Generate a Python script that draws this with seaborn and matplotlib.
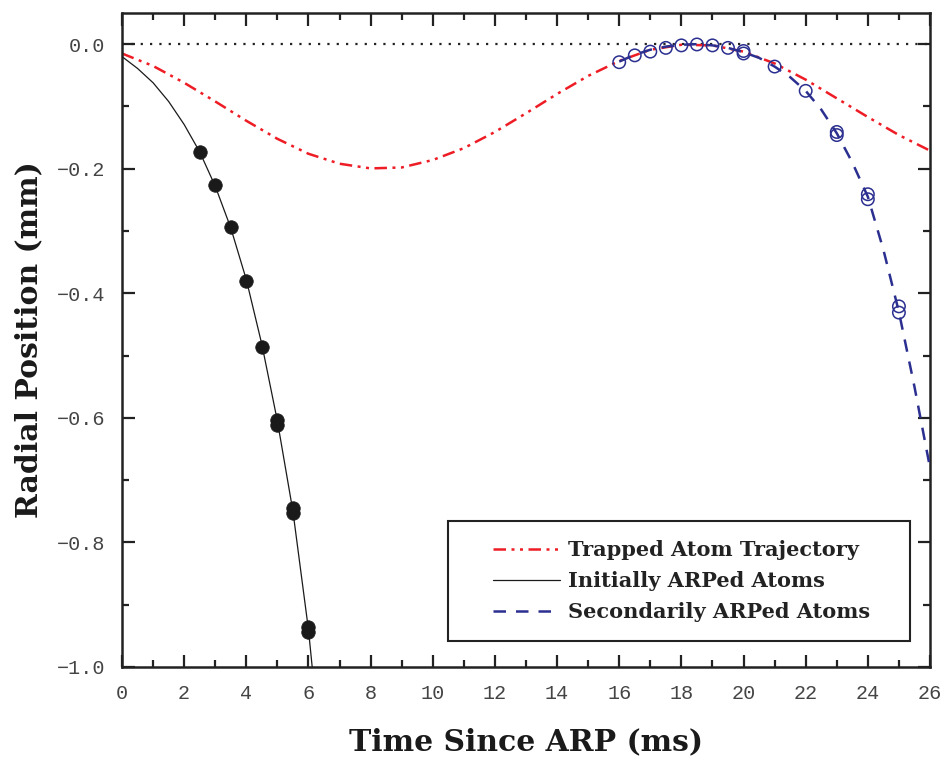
import matplotlib
matplotlib.use("Agg")
import matplotlib.pyplot as plt
import seaborn as sns
import numpy as np
from matplotlib.ticker import MultipleLocator, FuncFormatter
from matplotlib.patches import Rectangle

# ---------------- data ----------------
trap_t = [0, 1, 2, 3, 4, 5, 6, 7, 8, 9, 10, 11, 12, 13, 14, 15, 16, 17, 18,
          19, 20, 21, 22, 23, 24, 25, 26]
trap_r = [-0.015, -0.035, -0.062, -0.092, -0.123, -0.152, -0.176, -0.192,
          -0.1995, -0.198, -0.186, -0.167, -0.141, -0.111, -0.080, -0.051,
          -0.027, -0.009, -0.001, -0.002, -0.012, -0.031, -0.057, -0.087,
          -0.117, -0.146, -0.171]

init_t = [0, 0.5, 1, 1.5, 2, 2.5, 3, 3.5, 4, 4.5, 5, 5.5, 6, 6.12]
init_r = [-0.020, -0.039, -0.062, -0.092, -0.129, -0.173, -0.228, -0.295,
          -0.378, -0.482, -0.605, -0.750, -0.940, -1.000]

sec_t = [16, 16.5, 17, 17.5, 18, 18.5, 19, 19.5, 20, 20.5, 21, 21.5, 22,
         22.5, 23, 23.5, 24, 24.5, 25, 25.5, 26]
sec_r = [-0.028, -0.017, -0.009, -0.004, -0.001, 0.0, -0.002, -0.006,
         -0.013, -0.022, -0.036, -0.053, -0.075, -0.105, -0.143, -0.190,
         -0.245, -0.330, -0.430, -0.550, -0.680]

init_pts_t = [2.5, 3, 3.5, 4, 4.5, 5, 5, 5.5, 5.5, 6, 6]
init_pts_r = [-0.173, -0.226, -0.294, -0.380, -0.486, -0.604, -0.612,
              -0.744, -0.752, -0.936, -0.944]

sec_pts_t = [16, 16.5, 17, 17.5, 18, 18.5, 19, 19.5, 20, 20, 21, 22, 23, 23,
             24, 24, 25, 25]
sec_pts_r = [-0.029, -0.018, -0.012, -0.006, -0.002, -0.0005, -0.002,
             -0.006, -0.011, -0.015, -0.036, -0.075, -0.141, -0.146,
             -0.241, -0.249, -0.421, -0.431]

legend_labels = ["Trapped Atom Trajectory", "Initially ARPed Atoms",
                 "Secondarily ARPed Atoms"]

# ---------------- style ----------------
sns.set_theme(style="ticks")
plt.rcParams["font.family"] = ["DejaVu Serif", "DejaVu Sans"]

RED = "#ee1c25"
BLUE = "#2b2f8f"
BLACK = "#1a1a1a"

fig = plt.figure(figsize=(9.44, 7.57), dpi=100)
ax = fig.add_axes([122 / 944, 1 - 667 / 757, 808 / 944, (667 - 13) / 757])

# zero reference line
ax.axhline(0.0, color="#222222", lw=1.6, linestyle=(0, (1, 3.2)), zorder=1)

sns.lineplot(x=trap_t, y=trap_r, ax=ax, color=RED, lw=1.8,
             linestyle=(0, (5, 2.2, 1.2, 2.2, 1.2, 2.2)),
             estimator=None, sort=False, label=legend_labels[0], zorder=2)
sns.lineplot(x=init_t, y=init_r, ax=ax, color=BLACK, lw=0.9,
             estimator=None, sort=False, label=legend_labels[1], zorder=3)
sns.lineplot(x=sec_t, y=sec_r, ax=ax, color=BLUE, lw=1.8,
             linestyle=(0, (5, 4)),
             estimator=None, sort=False, label=legend_labels[2], zorder=3)

sns.scatterplot(x=init_pts_t, y=init_pts_r, ax=ax, color=BLACK, s=95,
                edgecolor=BLACK, linewidth=0.5, zorder=4, legend=False)
sns.scatterplot(x=sec_pts_t, y=sec_pts_r, ax=ax, facecolors="none",
                edgecolor=BLUE, linewidth=1.1, s=80, zorder=4, legend=False)

ax.set_xlim(0, 26)
ax.set_ylim(-1.0, 0.05)

ax.xaxis.set_major_locator(MultipleLocator(2))
ax.xaxis.set_minor_locator(MultipleLocator(1))
ax.yaxis.set_major_locator(MultipleLocator(0.2))
ax.yaxis.set_minor_locator(MultipleLocator(0.1))
ax.yaxis.set_major_formatter(FuncFormatter(lambda v, p: ("%.1f" % v).replace("-", "\u2212")))

ax.tick_params(which="both", direction="in", top=True, right=True,
               width=1.6, color="#222222")
ax.tick_params(which="major", length=9)
ax.tick_params(which="minor", length=5)
ax.tick_params(axis="both", which="major", labelsize=14.5, labelcolor="#444444",
               pad=12)
for lab in ax.get_xticklabels() + ax.get_yticklabels():
    lab.set_family(["Liberation Mono", "DejaVu Sans Mono"])

for sp in ax.spines.values():
    sp.set_linewidth(1.8)
    sp.set_color("#222222")

ax.set_xlabel("Time Since ARP (ms)", fontsize=21.5, fontweight="bold",
              color="#1a1a1a", labelpad=18)
ax.set_ylabel("Radial Position (mm)", fontsize=21.5, fontweight="bold",
              color="#1a1a1a", labelpad=10)

# legend box (frame drawn separately to get the wide side margins)
x0, x1 = (448 - 122) / 808, (910 - 122) / 808
y0, y1 = (667 - 641) / 654, (667 - 521) / 654
ax.add_patch(Rectangle((x0, y0), x1 - x0, y1 - y0, transform=ax.transAxes,
                       facecolor="white", edgecolor="#222222", lw=1.5,
                       zorder=5))
leg = ax.legend(loc="center left", bbox_to_anchor=((493 - 122) / 808, (y0 + y1) / 2),
                frameon=False, handlelength=3.2,
                prop={"family": "DejaVu Serif", "weight": "bold", "size": 15},
                borderpad=0, labelspacing=0.52, borderaxespad=0,
                handletextpad=0.4)
leg.set_zorder(6)
for t in leg.get_texts():
    t.set_color("#222222")

fig.savefig("out.png", dpi=100)
